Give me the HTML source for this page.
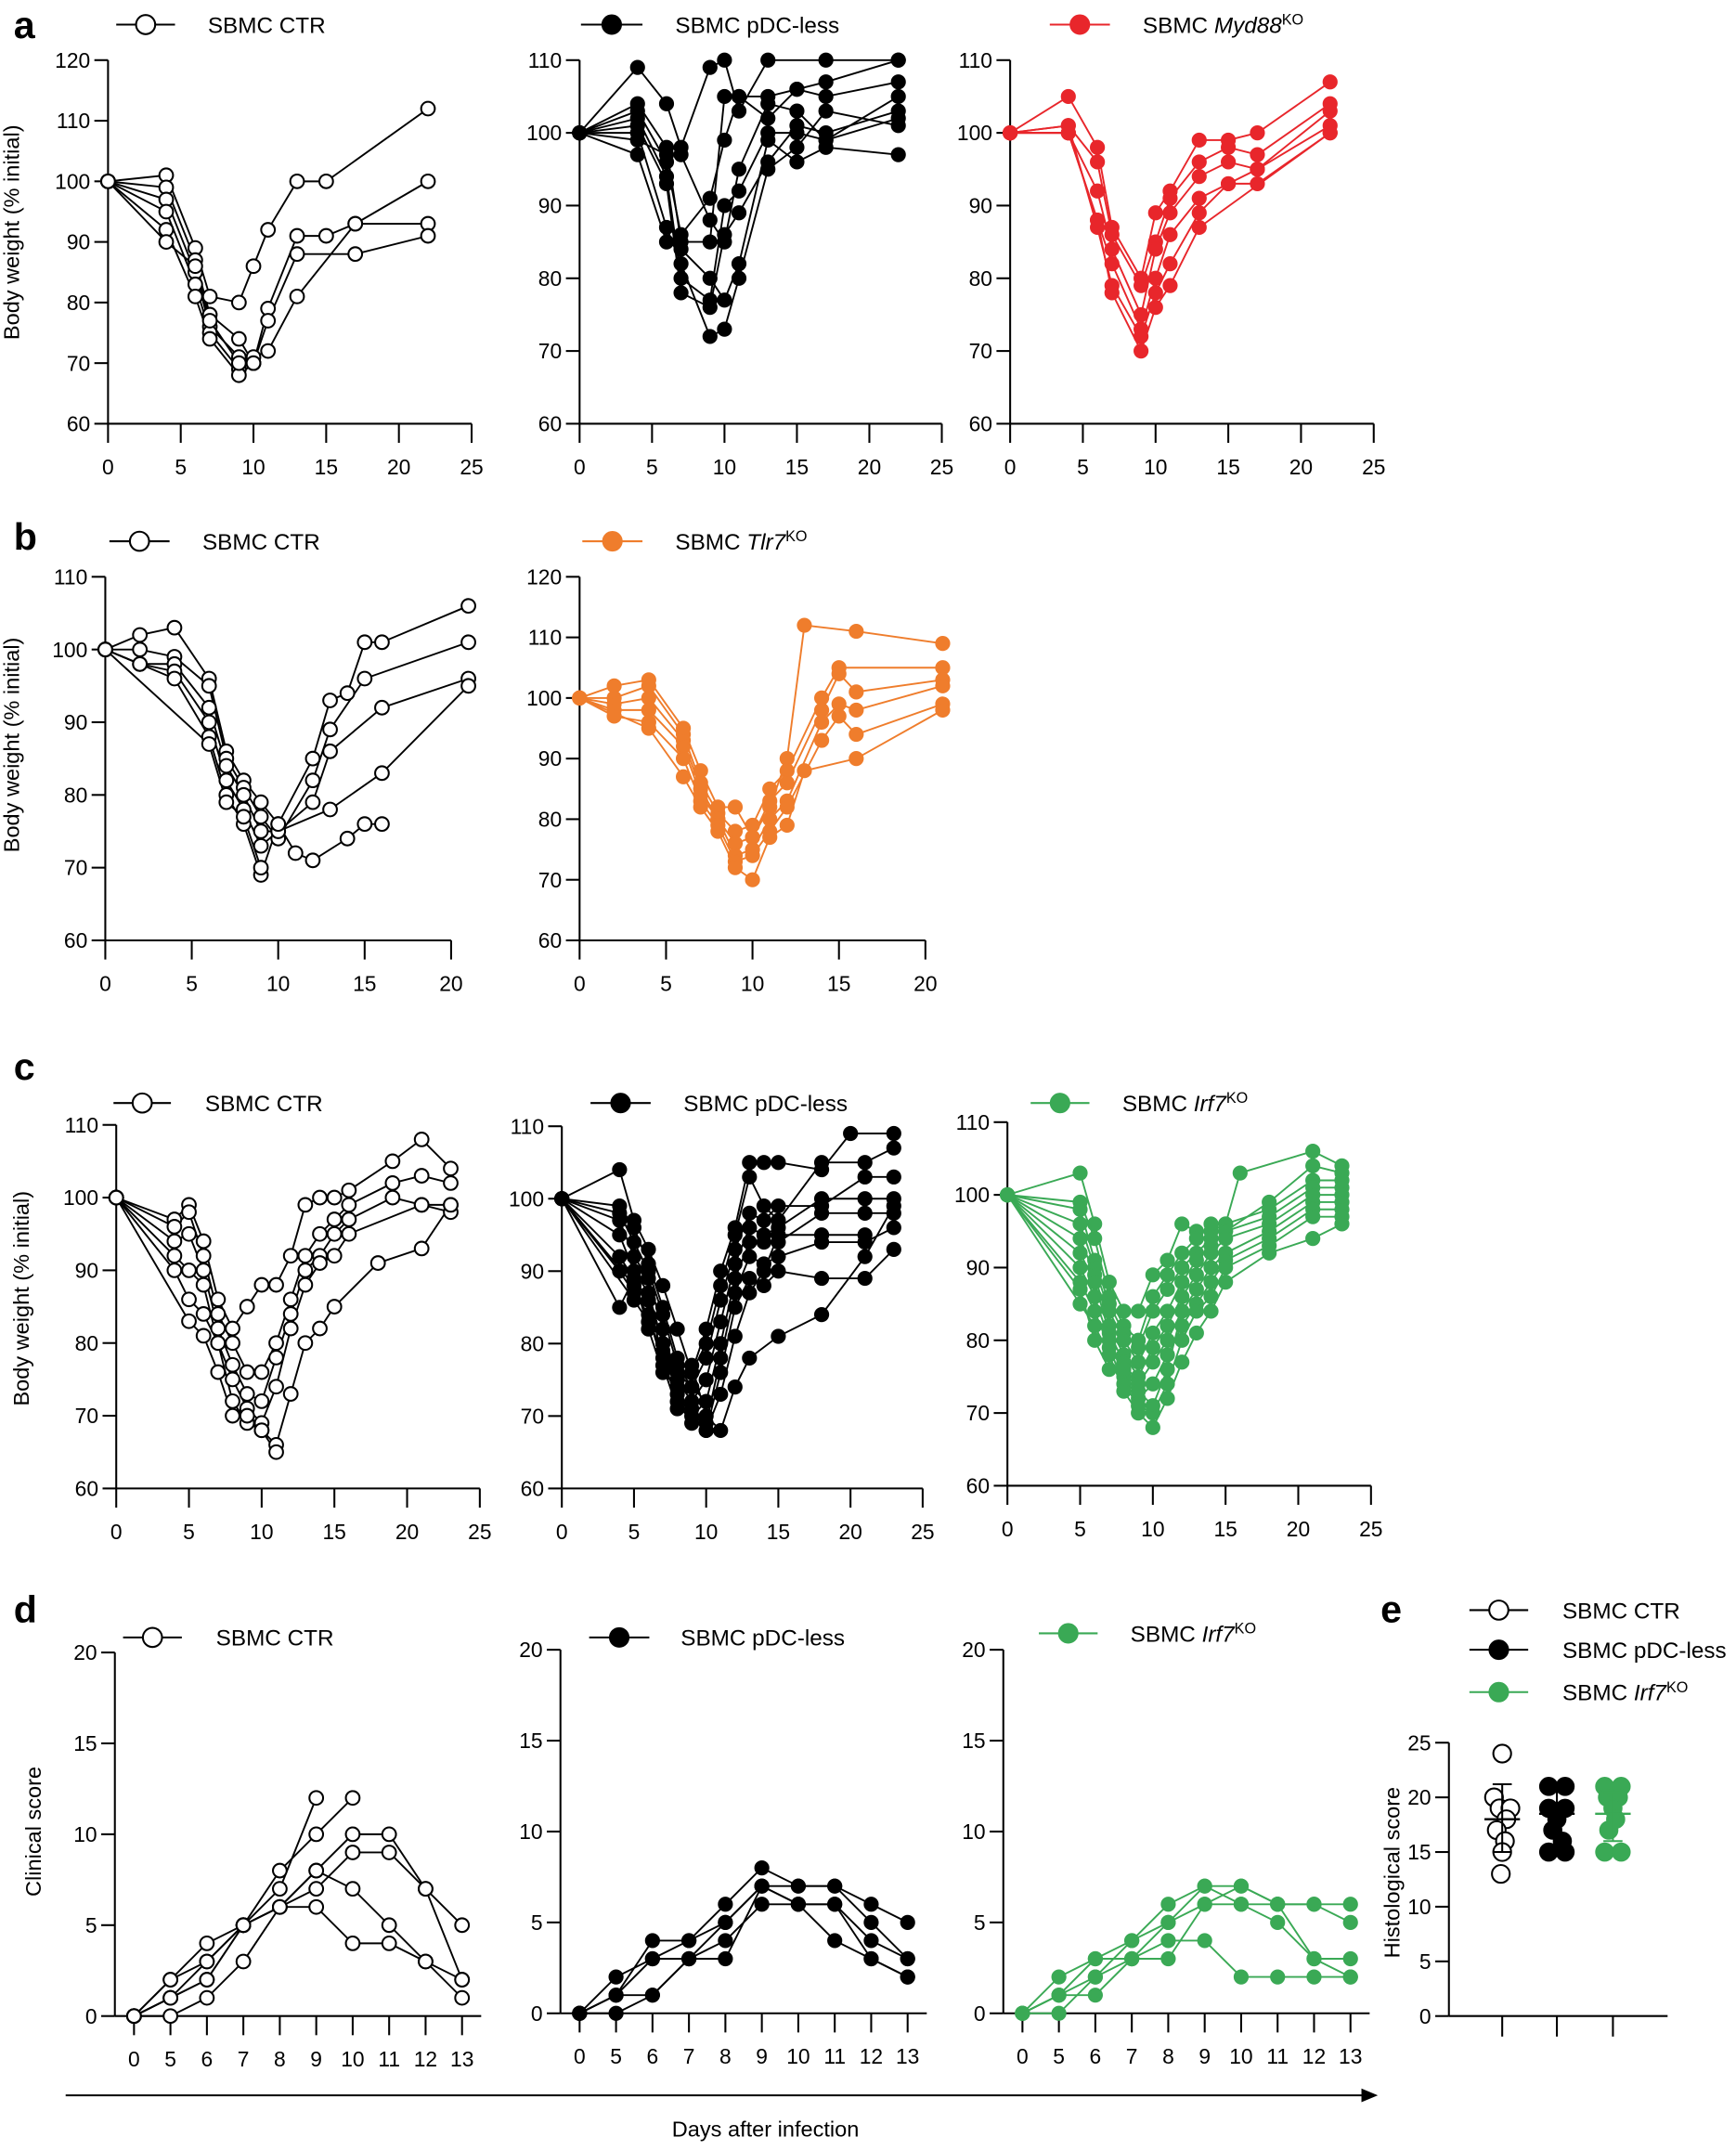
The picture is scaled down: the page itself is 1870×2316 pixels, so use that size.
<!DOCTYPE html>
<html><head><meta charset="utf-8"><style>
html,body{margin:0;padding:0;background:#fff;}
svg{display:block;font-family:"Liberation Sans",Arial,sans-serif;}
</style></head><body>
<svg id="s" xmlns="http://www.w3.org/2000/svg" width="1870" height="2316" viewBox="0 0 1270 1573">
<rect width="1270" height="1573" fill="#fff"/>
<g font-size="28" font-weight="bold">
<text x="10" y="28">a</text><text x="10" y="402">b</text><text x="10" y="790">c</text><text x="10" y="1187">d</text><text x="1010" y="1187">e</text>
</g>
<g font-size="16">
<text transform="translate(14,170) rotate(-90)" text-anchor="middle">Body weight (% initial)</text>
<text transform="translate(14,545) rotate(-90)" text-anchor="middle">Body weight (% initial)</text>
<text transform="translate(21,950) rotate(-90)" text-anchor="middle">Body weight (% initial)</text>
<text transform="translate(30,1340) rotate(-90)" text-anchor="middle">Clinical score</text>
<text transform="translate(1024,1370) rotate(-90)" text-anchor="middle">Histological score</text>
<text x="560" y="1563" text-anchor="middle">Days after infection</text>
</g>
<line x1="48" y1="1533" x2="998" y2="1533" stroke="#000" stroke-width="1.3"/>
<polygon points="1008,1533 996,1528 996,1538" fill="#000"/>
<g font-size="16.5">
<text x="152" y="24">SBMC CTR</text>
<text x="494" y="24">SBMC pDC-less</text>
<text x="836" y="24">SBMC <tspan font-style="italic">Myd88</tspan><tspan font-size="11" dy="-6">KO</tspan></text>
<text x="148" y="402">SBMC CTR</text>
<text x="494" y="402">SBMC <tspan font-style="italic">Tlr7</tspan><tspan font-size="11" dy="-6">KO</tspan></text>
<text x="150" y="813">SBMC CTR</text>
<text x="500" y="813">SBMC pDC-less</text>
<text x="821" y="813">SBMC <tspan font-style="italic">Irf7</tspan><tspan font-size="11" dy="-6">KO</tspan></text>
<text x="158" y="1204">SBMC CTR</text>
<text x="498" y="1204">SBMC pDC-less</text>
<text x="827" y="1201">SBMC <tspan font-style="italic">Irf7</tspan><tspan font-size="11" dy="-6">KO</tspan></text>
<text x="1143" y="1184">SBMC CTR</text>
<text x="1143" y="1213">SBMC pDC-less</text>
<text x="1143" y="1244">SBMC <tspan font-style="italic">Irf7</tspan><tspan font-size="11" dy="-6">KO</tspan></text>
</g>
<g id="plots"></g>
</svg>
<script>
var NS="http://www.w3.org/2000/svg",G=document.getElementById('plots');
function el(t,a,txt){var e=document.createElementNS(NS,t);for(var k in a)e.setAttribute(k,a[k]);if(txt!==undefined)e.textContent=txt;G.appendChild(e);return e;}
var RED="#e8262b",ORA="#ef7d2c",GRN="#3aa955";
function mk(x,y,c,open,r){el('circle',{cx:x,cy:y,r:r||5,fill:open?'#fff':c,stroke:open?'#000':c,'stroke-width':open?1.4:1});}
function leg(x1,x2,y,c,open){el('line',{x1:x1,y1:y,x2:x2,y2:y,stroke:open?'#000':c,'stroke-width':1.4});mk((x1+x2)/2,y,c,open,7);}
function panel(o){
 var X=function(v){return o.xa[2]+(v-o.xa[0])*(o.xa[3]-o.xa[2])/(o.xa[1]-o.xa[0]);};
 var Y=function(v){return o.ya[2]+(v-o.ya[0])*(o.ya[3]-o.ya[2])/(o.ya[1]-o.ya[0]);};
 var ax=o.axX!==undefined?o.axX:X(o.xa[0]); var ay=Y(o.ya[0]);
 var xEnd=o.xEnd!==undefined?o.xEnd:X(o.xa[1]);
 el('line',{x1:ax,y1:Y(o.ya[1]),x2:ax,y2:ay,stroke:'#000','stroke-width':1.4});
 el('line',{x1:ax,y1:ay,x2:xEnd,y2:ay,stroke:'#000','stroke-width':1.4});
 o.yt.forEach(function(v){var y=Y(v);el('line',{x1:ax-10,y1:y,x2:ax,y2:y,stroke:'#000','stroke-width':1.4});el('text',{x:ax-13,y:y+5.5,'text-anchor':'end','font-size':15.5},String(v));});
 o.xt.forEach(function(v,i){var x=X(v);el('line',{x1:x,y1:ay,x2:x,y2:ay+14,stroke:'#000','stroke-width':1.4});el('text',{x:x,y:ay+37,'text-anchor':'middle','font-size':15.5},o.xl?o.xl[i]:String(v));});
 o.s.forEach(function(s){var p=[];for(var i=0;i<s.length;i+=2)p.push(X(s[i]).toFixed(1)+','+Y(s[i+1]).toFixed(1));
  el('polyline',{points:p.join(' '),fill:'none',stroke:o.open?'#000':o.c,'stroke-width':1.3});});
 o.s.forEach(function(s){for(var i=0;i<s.length;i+=2)mk(X(s[i]),Y(s[i+1]),o.c,o.open);});
}
function cat(arr){var r=[];arr.forEach(function(v,i){r.push(i,v);});return r;}
// a
leg(85,128,18,'#000',1);leg(425,470,18,'#000',0);leg(768,812,18,RED,0);
panel({xa:[0,25,79,345],ya:[60,120,310,44],xt:[0,5,10,15,20,25],yt:[60,70,80,90,100,110,120],open:1,c:'#000',s:[
[0,100,4,101,6,89,7,81,9,80,10,86,11,92,13,100,15,100,22,112],
[0,100,4,99,6,87,7,78,9,74,10,70,11,79,13,91,15,91,17,93,22,93],
[0,100,4,97,6,85,7,76,9,71,10,70,11,77,13,88,17,88,22,91],
[0,100,4,95,6,83,7,75,9,69,10,71,11,72,13,81,17,93,22,100],
[0,100,4,92,6,81,7,74,9,68,10,70],
[0,100,4,90,6,86,7,77,9,70]]});
panel({xa:[0,25,424,689],ya:[60,110,310,44],xt:[0,5,10,15,20,25],yt:[60,70,80,90,100,110],c:'#000',s:[
[0,100,4,109,6,104,7,98,9,109,10,110,11,103,13,110,17,110,22,110],
[0,100,4,104,6,98,7,85,9,85,10,105,11,105,13,105,15,106,17,107,22,110],
[0,100,4,103,6,96,7,86,9,91,10,99,11,105,13,102,15,106,17,105,22,107],
[0,100,4,102,6,94,7,80,9,77,10,90,11,92,13,100,15,100,17,99,22,105],
[0,100,4,101,6,93,7,78,9,76,10,86,11,89,13,96,15,101,17,100,22,103],
[0,100,4,100,6,87,7,82,9,72,10,73,11,80,13,95,15,98,17,103,22,101],
[0,100,4,97,6,85,7,84,9,80,10,77,11,82,13,99,15,96,17,98,22,97],
[0,100,4,99,6,97,7,97,9,88,10,85,11,95,13,104,15,103,17,99,22,102]]});
panel({xa:[0,25,739,1005],ya:[60,110,310,44],xt:[0,5,10,15,20,25],yt:[60,70,80,90,100,110],c:RED,s:[
[0,100,4,105,6,98,7,87,9,80,10,89,11,92,13,99,15,99,17,100,22,107],
[0,100,4,101,6,96,7,86,9,79,10,85,11,91,13,96,15,98,17,97,22,104],
[0,100,4,100,6,92,7,84,9,75,10,84,11,89,13,94,15,96,17,95,22,103],
[0,100,4,100,6,88,7,82,9,73,10,80,11,86,13,91,15,93,17,95,22,101],
[0,100,4,101,6,87,7,79,9,72,10,78,11,82,13,89,15,93,17,93,22,100],
[0,100,4,100,6,88,7,78,9,70,10,76,11,79,13,87,22,100]]});
// b
leg(80,124,396,'#000',1);leg(426,470,396,ORA,0);
panel({xa:[0,20,77,330],ya:[60,110,688,422],xt:[0,5,10,15,20],yt:[60,70,80,90,100,110],open:1,c:'#000',s:[
[0,100,2,102,4,103,6,96,7,86,8,82,9,79,10,76,12,85,13,93,14,94,15,101,16,101,21,106],
[0,100,2,100,4,99,6,95,7,85,8,81,9,77,10,74,12,82,13,89,15,96,21,101],
[0,100,2,98,4,98,6,92,7,84,8,80,9,75,10,75,12,79,13,86,16,92,21,96],
[0,100,2,98,4,97,6,90,7,82,8,78,9,73,10,75,13,78,16,83,21,95],
[0,100,4,96,6,88,7,80,8,76,9,69,10,76,11,72,12,71,14,74,15,76,16,76],
[0,100,6,87,7,79,8,77,9,70]]});
panel({xa:[0,20,424,677],ya:[60,120,688,422],xt:[0,5,10,15,20],yt:[60,70,80,90,100,110,120],c:ORA,s:[
[0,100,2,102,4,103,6,95,7,88,8,82,9,82,10,77,11,82,12,90,13,112,16,111,21,109],
[0,100,2,100,4,102,6,94,7,86,8,81,9,78,10,79,11,85,12,88,14,100,15,105,21,105],
[0,100,2,99,4,100,6,93,7,85,8,80,9,76,10,77,11,83,12,86,14,98,15,104,16,101,21,103],
[0,100,2,98,4,98,6,92,7,84,8,80,9,74,10,75,11,80,12,83,14,96,15,99,16,98,21,102],
[0,100,2,97,4,96,6,90,7,83,8,79,9,73,10,74,11,78,12,82,14,93,15,97,16,94,21,99],
[0,100,4,95,6,87,7,82,8,78,9,72,10,70,11,77,12,79,13,88,16,90,21,98]]});
// c
leg(83,125,807,'#000',1);leg(432,476,807,'#000',0);leg(754,797,807,GRN,0);
panel({xa:[0,25,85,351],ya:[60,110,1089,823],xt:[0,5,10,15,20,25],yt:[60,70,80,90,100,110],open:1,c:'#000',s:[
[0,100,4,97,5,99,6,94,7,86,8,82,9,85,10,88,11,88,12,92,13,99,14,100,15,100,16,101,19,105,21,108,23,104],
[0,100,4,96,5,98,6,92,7,84,8,80,9,76,10,76,11,80,12,86,13,92,14,95,15,97,16,99,19,102,21,103,23,102],
[0,100,4,94,5,95,6,90,7,82,8,77,9,73,10,72,11,78,12,84,13,90,14,92,15,95,16,97,19,100,21,99,23,99],
[0,100,4,92,5,90,6,88,7,80,8,75,9,71,10,69,11,74,12,82,13,88,14,91,15,92,16,95,21,99,23,98],
[0,100,4,90,5,86,6,84,7,80,8,72,9,69,10,68,11,66,12,73,13,80,14,82,15,85,18,91,21,93,23,99],
[0,100,5,83,6,81,7,76,8,70,9,70,10,68,11,65]]});
panel({xa:[0,25,411,675],ya:[60,110,1089,824],xt:[0,5,10,15,20,25],yt:[60,70,80,90,100,110],c:'#000',s:[
[0,100,4,104,5,97,6,93,7,88,8,82,9,76,10,82,11,90,12,96,13,105,14,105,15,105,18,104,20,109,23,109],
[0,100,4,99,5,96,6,91,7,85,8,78,9,76,10,80,11,88,12,95,13,103,14,99,15,97,18,105,21,105,23,107],
[0,100,4,98,5,94,6,90,7,84,8,77,9,74,10,78,11,86,12,93,13,98,14,97,15,99,18,99,21,103,23,103],
[0,100,4,97,5,92,6,89,7,82,8,75,9,72,10,75,11,83,12,91,13,96,14,95,15,96,18,100,21,100,23,100],
[0,100,4,95,5,90,6,87,7,80,8,73,9,70,10,72,11,80,12,89,13,94,14,94,15,94,18,98,21,98,23,98],
[0,100,4,92,5,89,6,86,7,78,8,72,9,69,10,69,11,78,12,87,13,92,14,91,15,92,18,94,21,94,23,96],
[0,100,4,90,5,87,6,84,7,77,8,71,9,71,10,68,11,76,12,85,13,89,14,88,15,90,18,89,21,89,23,93],
[0,100,4,85,5,89,6,82,7,76,8,74,9,77,10,70,11,68,12,74,13,78,15,81,18,84,21,92,23,99],
[0,100,5,88,6,86,7,80,8,75,9,72,10,68,11,73,12,81,13,87,14,90,15,95,18,95,21,95],
[0,100,5,86,6,83,7,79,8,76,9,74,10,72]]});
panel({xa:[0,25,737,1003],ya:[60,110,1087,821],xt:[0,5,10,15,20,25],yt:[60,70,80,90,100,110],c:GRN,s:[
[0,100,5,103,6,96,7,88,8,84,9,84,10,89,11,91,12,96,13,95,14,95,15,96,16,103,21,106,23,104],
[0,100,5,99,6,94,7,86,8,82,9,80,10,86,11,89,12,92,13,94,14,96,15,95,18,99,21,104,23,103],
[0,100,5,98,6,91,7,85,8,81,9,79,10,84,11,87,12,90,13,92,14,94,15,96,18,98,21,102,23,102],
[0,100,5,96,6,90,7,84,8,80,9,77,10,81,11,84,12,88,13,91,14,93,15,95,18,97,21,101,23,101],
[0,100,5,94,6,89,7,82,8,78,9,75,10,79,11,82,12,86,13,89,14,92,15,94,18,96,21,100,23,100],
[0,100,5,92,6,88,7,81,8,77,9,74,10,77,11,80,12,84,13,87,14,90,15,92,18,95,21,99,23,99],
[0,100,5,90,6,86,7,80,8,75,9,72,10,74,11,78,12,82,13,85,14,88,15,91,18,94,21,98,23,98],
[0,100,5,88,6,84,7,79,8,74,9,71,10,70,11,74,12,80,13,84,14,86,15,90,18,93,21,97,23,97],
[0,100,5,85,6,82,7,78,8,73,9,70,10,68,11,72,12,77,13,81,14,84,15,88,18,92,21,94,23,96],
[0,100,5,87,6,80,7,76,8,76,9,73,10,71,11,76,12,84]]});
// d
var XL=['0','5','6','7','8','9','10','11','12','13'],XT=[0,1,2,3,4,5,6,7,8,9];
leg(90,133,1198,'#000',1);leg(431,475,1198,'#000',0);leg(760,803,1195,GRN,0);
panel({xa:[0,9,98,338],ya:[0,20,1475,1209],axX:84,xEnd:352,xt:XT,xl:XL,yt:[0,5,10,15,20],open:1,c:'#000',s:[
cat([0,2,3,5,7,12]),cat([0,1,2,5,8,10,12]),cat([0,2,4,5,6,8,10,10,7,5]),cat([0,1,3,5,6,7,9,9,7,2]),cat([0,0,1,3,6,6,4,4,3,1]),cat([0,1,2,5,6,8,7,5,3,2])]});
panel({xa:[0,9,424,664],ya:[0,20,1473,1207],axX:410,xEnd:678,xt:XT,xl:XL,yt:[0,5,10,15,20],c:'#000',s:[
cat([0,2,3,4,6,8,7,7,6,5]),cat([0,1,4,4,5,7,7,7,5,3]),cat([0,1,3,3,5,7,6,6,4,3]),cat([0,0,1,3,4,6,6,4,3,2]),cat([0,1,1,3,3,7,6,6,3,2])]});
panel({xa:[0,9,748,988],ya:[0,20,1473,1207],axX:734,xEnd:1002,xt:XT,xl:XL,yt:[0,5,10,15,20],c:GRN,s:[
cat([0,2,3,4,6,7,7,6,6,6]),cat([0,1,3,3,5,7,6,6,3,2]),cat([0,1,2,4,5,6,7,6,6,5]),cat([0,0,2,3,4,4,2,2,2,2]),cat([0,1,1,3,3,6,6,5,3,3])]});
// e
leg(1075,1118,1178,'#000',1);leg(1075,1118,1207,'#000',0);leg(1075,1118,1238,GRN,0);
(function(){
 var Y=function(v){return 1475-v*8;};
 el('line',{x1:1060,y1:Y(25),x2:1060,y2:1475,stroke:'#000','stroke-width':1.4});
 el('line',{x1:1060,y1:1475,x2:1220,y2:1475,stroke:'#000','stroke-width':1.4});
 [0,5,10,15,20,25].forEach(function(v){el('line',{x1:1050,y1:Y(v),x2:1060,y2:Y(v),stroke:'#000','stroke-width':1.4});el('text',{x:1047,y:Y(v)+5.5,'text-anchor':'end','font-size':15.5},String(v));});
 [1099,1139,1180].forEach(function(x){el('line',{x1:x,y1:1475,x2:x,y2:1490,stroke:'#000','stroke-width':1.4});});
 var g=[[1099,'#000',1,[[0,24],[-6,20],[-2,19],[6,19],[3,18],[-4,17],[2,16],[0,15],[-1,13]],18,21.2,15],
        [1139,'#000',0,[[-6,21],[6,21],[-6,19],[6,19],[0,18],[-3,17],[4,16],[-6,15],[6,15]],18.5,20.5,16.5],
        [1180,GRN,0,[[-6,21],[6,21],[-4,20],[4,20],[0,19],[2,18],[-3,17],[-6,15],[6,15]],18.5,20.5,16]];
 g.forEach(function(q){
  q[3].forEach(function(p){mk(q[0]+p[0],Y(p[1]),q[1],q[2],6.5);});
  el('line',{x1:q[0]-13,y1:Y(q[4]),x2:q[0]+13,y2:Y(q[4]),stroke:q[2]?'#000':q[1],'stroke-width':1.6});
  el('line',{x1:q[0],y1:Y(q[5]),x2:q[0],y2:Y(q[6]),stroke:q[2]?'#000':q[1],'stroke-width':1.4});
  el('line',{x1:q[0]-7,y1:Y(q[5]),x2:q[0]+7,y2:Y(q[5]),stroke:q[2]?'#000':q[1],'stroke-width':1.4});
  el('line',{x1:q[0]-7,y1:Y(q[6]),x2:q[0]+7,y2:Y(q[6]),stroke:q[2]?'#000':q[1],'stroke-width':1.4});
 });
})();
</script>
</body></html>
